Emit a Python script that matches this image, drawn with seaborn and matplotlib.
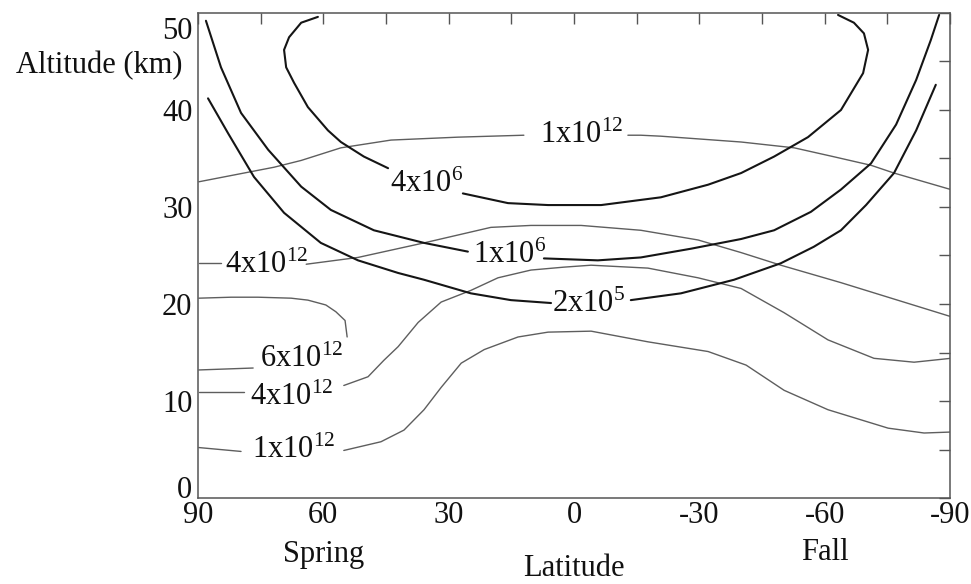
import numpy as np
import pandas as pd
import matplotlib
matplotlib.use('Agg')
import matplotlib.pyplot as plt
import matplotlib.transforms as mtrans
import seaborn as sns

# ------------------------------------------------------------
# contour lines: latitude (deg), altitude (km)
# None marks the break where the inline label sits
# ------------------------------------------------------------

# thick (dark) contours
lat_4e6 = [61.3, 65.3, 68.2, 69.4, 68.9, 67.0, 63.7, 58.9, 55.8, 50.3, 44.5, None,
           26.6, 15.8, 6.2, -6.5, -20.8, -32.1, -40.0, -47.9, -56.0, -63.9, -69.2,
           -70.4, -69.4, -67.0, -63.2]
alt_4e6 = [49.6, 49.0, 47.5, 46.2, 44.4, 42.8, 40.3, 37.9, 36.7, 35.2, 34.0, None,
           31.4, 30.4, 30.2, 30.2, 31.0, 32.3, 33.5, 35.2, 37.2, 40.0, 43.8,
           46.2, 47.9, 49.0, 49.8]

lat_1e6 = [88.1, 84.5, 79.7, 73.2, 65.3, 58.2, 47.9, 35.9, 25.4, None,
           7.2, -5.7, -16.0, -28.0, -40.0, -47.9, -56.7, -63.9, -71.1, -77.1,
           -81.9, -85.4, -87.4]
alt_1e6 = [49.2, 44.4, 39.7, 35.9, 32.1, 29.7, 27.6, 26.3, 25.4, None,
           24.7, 24.5, 24.8, 25.7, 26.7, 27.6, 29.5, 31.8, 34.5, 38.5,
           43.1, 47.2, 49.8]

lat_2e5 = [87.6, 82.8, 76.6, 69.4, 60.6, 51.7, 42.1, 35.9, 24.7, 15.1, 5.5, None,
           -13.6, -25.6, -38.3, -49.5, -57.4, -63.9, -69.9, -76.6, -81.9, -86.6]
alt_2e5 = [41.2, 37.6, 33.1, 29.4, 26.3, 24.5, 23.2, 22.5, 21.1, 20.4, 20.1, None,
           20.4, 21.1, 22.5, 24.2, 25.9, 27.6, 30.2, 33.5, 37.9, 42.6]

# thin (grey) contours
lat_1e12_top = [89.8, 81.4, 71.8, 65.3, 55.8, 43.8, 27.8, 12.0, None,
                -12.9, -16.0, -20.8, -40.0, -52.7, -62.0, -71.1, -76.6, -90.2]
alt_1e12_top = [32.6, 33.3, 34.1, 34.8, 36.1, 36.9, 37.2, 37.4, None,
                37.4, 37.4, 37.3, 36.7, 36.1, 35.2, 34.3, 33.5, 31.8]

lat_4e12_top = [89.8, 84.5, None,
                64.1, 51.7, 35.9, 19.9, 10.3, -1.7, -16.0, -29.7, -40.0, -49.5,
                -63.9, -90.2]
alt_4e12_top = [24.2, 24.2, None,
                24.1, 24.8, 26.3, 27.9, 28.1, 28.1, 27.6, 26.6, 25.3, 24.0,
                22.2, 18.7]

lat_6e12 = [89.8, 76.8, None,
            54.3, 54.8, 57.0, 59.4, 63.7, 67.7, 75.6, 82.1, 89.8]
alt_6e12 = [13.2, 13.4, None,
            16.6, 18.3, 19.2, 19.9, 20.4, 20.6, 20.7, 20.7, 20.6]

lat_4e12_low = [89.8, 79.1, None,
                55.1, 49.3, 45.5, 42.1, 37.3, 31.8, 24.7, 18.2, 10.3, 2.4, -4.1,
                -17.7, -29.7, -40.0, -50.3, -60.8, -71.8, -81.4, -90.2]
alt_4e12_low = [10.9, 10.9, None,
                11.6, 12.5, 14.2, 15.6, 18.1, 20.2, 21.4, 22.7, 23.5, 23.8, 24.0,
                23.7, 22.7, 21.6, 19.1, 16.3, 14.4, 14.0, 14.4]

lat_1e12_low = [89.8, 79.7, None,
                55.1, 46.2, 40.7, 35.9, 31.8, 27.0, 21.5, 13.4, 6.2, -4.1,
                -17.7, -32.1, -41.2, -50.3, -60.8, -75.2, -83.8, -90.2]
alt_1e12_low = [5.2, 4.8, None,
                4.9, 5.8, 7.0, 9.1, 11.4, 13.9, 15.3, 16.6, 17.1, 17.2,
                16.1, 15.1, 13.7, 11.1, 9.1, 7.2, 6.7, 6.8]

# inline labels: text, latitude, altitude (baseline)
label_text = ['4x10$^6$', '1x10$^6$', '2x10$^5$', '1x10$^{12}$',
              '4x10$^{12}$', '6x10$^{12}$', '4x10$^{12}$', '1x10$^{12}$']
label_lat = [35.2, 15.3, -3.4, -1.9, 73.5, 65.1, 67.5, 67.0]
label_alt = [31.5, 24.2, 19.2, 36.6, 23.2, 13.5, 9.6, 4.1]


def pieces(lat, alt, name):
    df = pd.DataFrame({'lat': lat, 'alt': alt}, dtype=float)
    df['piece'] = name + '_' + df['lat'].isna().cumsum().astype(str)
    return df.dropna()


thick = pd.concat([pieces(lat_4e6, alt_4e6, '4e6'),
                   pieces(lat_1e6, alt_1e6, '1e6'),
                   pieces(lat_2e5, alt_2e5, '2e5')], ignore_index=True)
thin = pd.concat([pieces(lat_1e12_top, alt_1e12_top, '1e12t'),
                  pieces(lat_4e12_top, alt_4e12_top, '4e12t'),
                  pieces(lat_6e12, alt_6e12, '6e12'),
                  pieces(lat_4e12_low, alt_4e12_low, '4e12l'),
                  pieces(lat_1e12_low, alt_1e12_low, '1e12l')], ignore_index=True)

# ------------------------------------------------------------
# style
# ------------------------------------------------------------
sns.set_theme(style='white')
plt.rcParams['font.family'] = ['Liberation Serif', 'DejaVu Serif']
plt.rcParams['mathtext.default'] = 'regular'
plt.rcParams['axes.unicode_minus'] = False
FS = 22
INK = '#111111'

fig = plt.figure(figsize=(9.71, 5.84), dpi=100)
ax = fig.add_axes([198 / 971, 86 / 584, 752 / 971, 485 / 584])

sns.lineplot(data=thin, x='lat', y='alt', units='piece', estimator=None,
             sort=False, color='#5e5e5e', lw=1.0, ax=ax)
sns.lineplot(data=thick, x='lat', y='alt', units='piece', estimator=None,
             sort=False, color='#151515', lw=1.5, ax=ax)

for t, x, y in zip(label_text, label_lat, label_alt):
    ax.text(x, y, t, ha='center', va='baseline', fontsize=FS, color=INK)

ax.set_xlim(90, -90)
ax.set_ylim(0, 50)
ax.set_xticks(np.arange(90, -91, -30))
ax.set_xticks(np.arange(-90, 91, 15), minor=True)
ax.set_yticks(np.arange(0, 51, 10))
ax.set_yticks(np.arange(0, 51, 5), minor=True)
ax.tick_params(which='both', direction='in', top=True, right=True,
               length=8, width=1, color='#555555', labelsize=FS,
               labelcolor=INK)
ax.tick_params(axis='x', pad=2)
ax.tick_params(axis='y', pad=4)
for s in ax.spines.values():
    s.set_color('#555555')
    s.set_linewidth(1.1)

ax.set_xlabel('')
ax.set_ylabel('')

# the end labels of the altitude axis sit inside the frame in the original
yticks = ax.yaxis.get_major_ticks()
top_lab = yticks[-1].label1
top_lab.set_va('top')
top_lab.set_transform(top_lab.get_transform()
                      + mtrans.ScaledTranslation(0, -0.04, fig.dpi_scale_trans))
yticks[0].label1.set_va('baseline')

ax.text(93.6, 43.8, 'Altitude (km)', ha='right', va='baseline',
        fontsize=FS, color=INK, clip_on=False)
ax.text(60, -6.6, 'Spring', ha='center', va='baseline', fontsize=FS,
        color=INK, clip_on=False)
ax.text(-60, -6.4, 'Fall', ha='center', va='baseline', fontsize=FS,
        color=INK, clip_on=False)
ax.text(0, -8.0, 'Latitude', ha='center', va='baseline', fontsize=FS,
        color=INK, clip_on=False)

fig.savefig('out.png', dpi=100)
